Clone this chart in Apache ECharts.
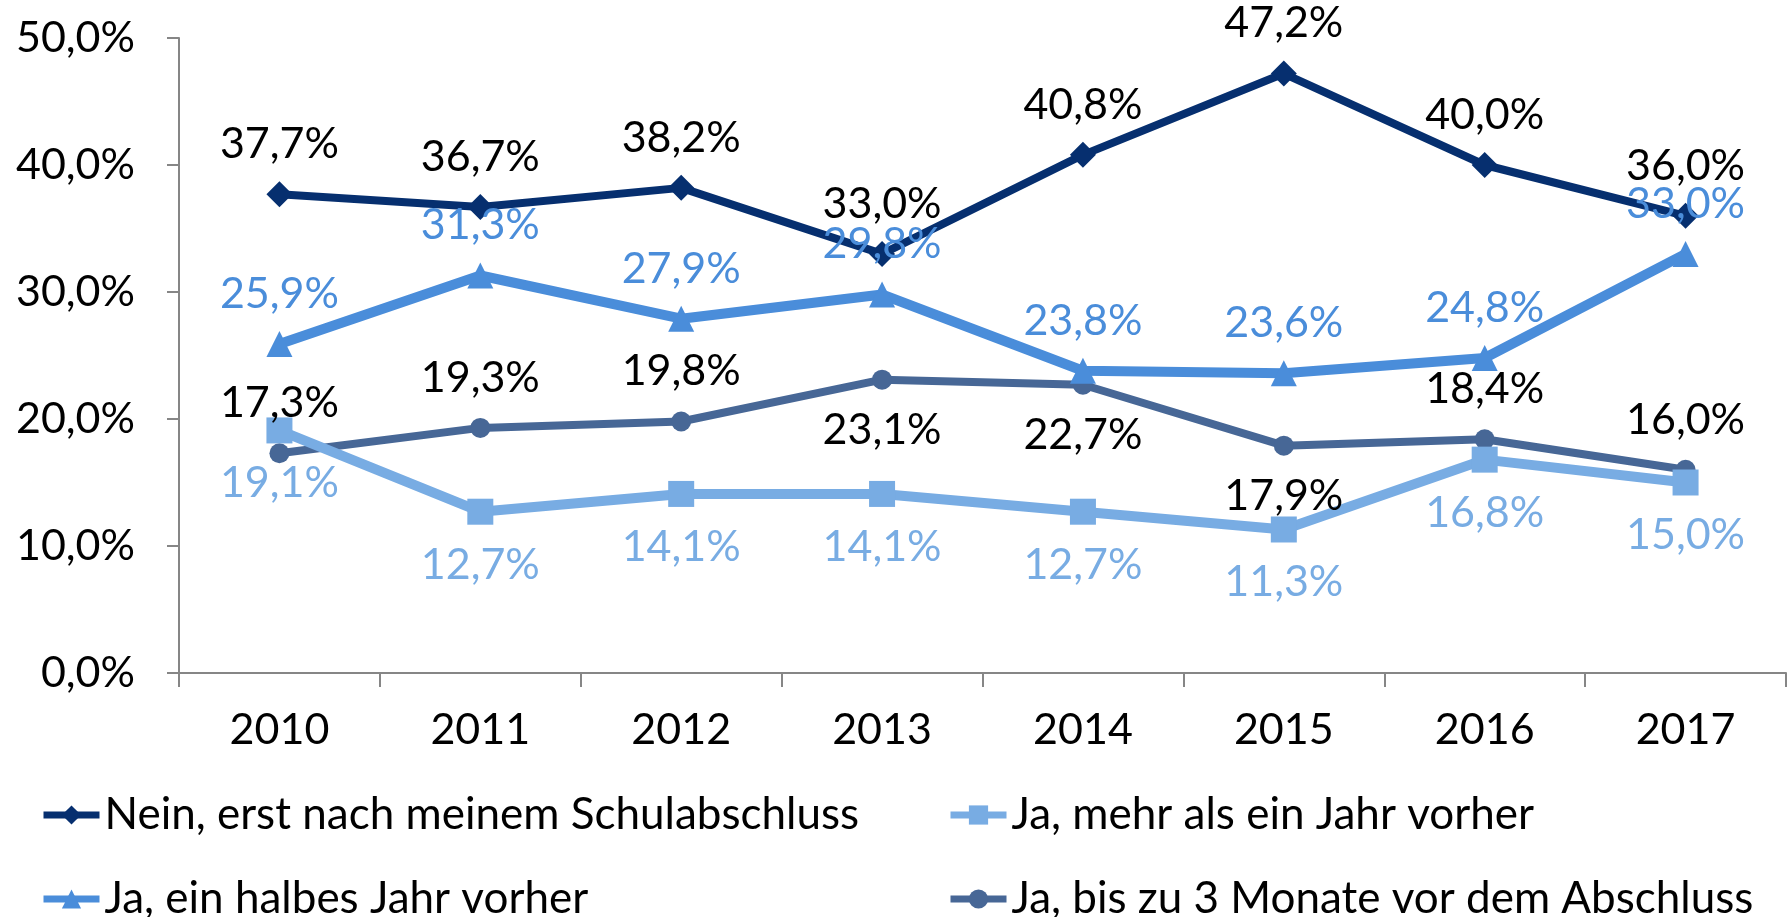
<!DOCTYPE html>
<html>
<head>
<meta charset="utf-8">
<script src="https://cdn.jsdelivr.net/npm/echarts@6/dist/echarts.min.js"></script>
<style>
  html, body { margin: 0; padding: 0; background: #fff; }
  #lineChart { width: 1789px; height: 917px; }
</style>
</head>
<body>
<div id="lineChart"></div>
<script>
const years = ['2010', '2011', '2012', '2013', '2014', '2015', '2016', '2017']
const yTicks = [0, 10, 20, 30, 40, 50]

const nameNein = 'Nein, erst nach meinem Schulabschluss'
const nameMehr = 'Ja, mehr als ein Jahr vorher'
const nameHalb = 'Ja, ein halbes Jahr vorher'
const nameBis = 'Ja, bis zu 3 Monate vor dem Abschluss'

const neinValues = [37.7, 36.7, 38.2, 33.0, 40.8, 47.2, 40.0, 36.0]
const mehrValues = [19.1, 12.7, 14.1, 14.1, 12.7, 11.3, 16.8, 15.0]
const halbValues = [25.9, 31.3, 27.9, 29.8, 23.8, 23.6, 24.8, 33.0]
const bisValues = [17.3, 19.3, 19.8, 23.1, 22.7, 17.9, 18.4, 16.0]

// which labels of the "bis zu 3 Monate" line sit under the point
const bisBelow = [false, false, false, true, true, true, false, false]

const font = 'Lato, "Open Sans", sans-serif'
const fs = 43
const pct = v => v.toFixed(1).replace('.', ',') + '%'

function makeSeries (name, values, color, symbol, size, width, labelColor, labelPos, dist) {
  return {
    type: 'line',
    name: name,
    data: values,
    symbol: symbol,
    symbolSize: size,
    lineStyle: { color: color, width: width },
    itemStyle: { color: color },
    label: {
      show: true,
      position: labelPos,
      distance: dist,
      color: labelColor,
      fontFamily: font,
      fontSize: fs,
      lineHeight: 40,
      formatter: p => pct(p.value)
    },
    emphasis: { disabled: true },
    animation: false
  }
}

// one legend box per entry, laid out as two rows by two columns
function legendItem (name, left, top) {
  return {
    data: [name],
    left: left,
    top: top,
    padding: 0,
    itemWidth: 56,
    itemHeight: 24,
    lineStyle: { width: 7 },
    textStyle: { fontFamily: font, fontSize: 44, color: '#000' }
  }
}

const chart = echarts.init(document.getElementById('lineChart'))

const bisSeries = makeSeries(nameBis, [], '#476796', 'circle', 20, 8, '#000', 'top', 20)
bisSeries.data = bisValues.map((v, i) => bisBelow[i]
  ? { value: v, label: { position: 'bottom' } }
  : v)

chart.setOption({
  grid: { left: 179, right: 3, top: 38, bottom: 244 },
  legend: [
    legendItem(nameNein, 40, 793),
    legendItem(nameMehr, 947, 793),
    legendItem(nameHalb, 40, 877),
    legendItem(nameBis, 947, 877)
  ],
  xAxis: {
    type: 'category',
    data: years,
    boundaryGap: true,
    axisLine: { lineStyle: { color: '#868686', width: 2 } },
    axisTick: { show: true, length: 14, lineStyle: { color: '#868686', width: 2 } },
    axisLabel: { color: '#000', fontFamily: font, fontSize: fs, margin: 36 }
  },
  yAxis: {
    type: 'value',
    min: yTicks[0],
    max: yTicks[yTicks.length - 1],
    interval: 10,
    axisLine: { show: true, lineStyle: { color: '#868686', width: 2 } },
    axisTick: { show: true, length: 12, lineStyle: { color: '#868686', width: 2 } },
    splitLine: { show: false },
    axisLabel: {
      color: '#000',
      fontFamily: font,
      fontSize: fs,
      margin: 44,
      formatter: v => pct(v)
    }
  },
  series: [
    bisSeries,
    makeSeries(nameMehr, mehrValues, '#78ACE3', 'rect', 26, 10, '#78ACE3', 'bottom', 20),
    makeSeries(nameHalb, halbValues, '#4A8DDA', 'triangle', 26, 10, '#4A8DDA', 'top', 17),
    makeSeries(nameNein, neinValues, '#062F6F', 'diamond', 26, 8, '#000', 'top', 17)
  ]
})
</script>
</body>
</html>
